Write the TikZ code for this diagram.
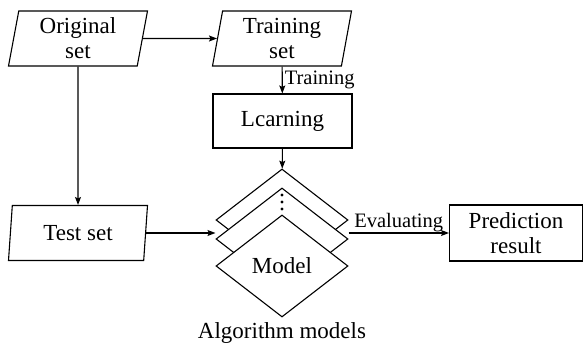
\documentclass[tikz,border=0pt]{standalone}
\usepackage{fontspec}
\setmainfont{Liberation Serif}
\usepackage{tikz}
\usetikzlibrary{shapes.geometric, arrows.meta, positioning}

\begin{document}
\begin{tikzpicture}[x=1pt,y=-1pt,>={Stealth[length=8pt,width=6pt,inset=1.5pt]},line width=1.1pt]
        \useasboundingbox (0,0) rectangle (584,347);
        \begin{scope}[every node/.style={draw,font=\fontsize{23}{25}\selectfont,align=center,inner sep=0pt}]
          \begin{scope}[every node/.append style={trapezium,trapezium left angle=76,trapezium right angle=104,trapezium stretches body,minimum width=139pt,minimum height=55pt}]
            \node (orig) at (78,38.5) {Original\\set};
            \node (train) at (282,38.5) {Training\\set};
            \node (tests) at (78,233) {Test set};
          \end{scope}
          \node[minimum width=139pt,minimum height=54pt] (learn) at (282.5,121) {Lcarning};
          \node[minimum width=133pt,minimum height=56pt] (pred) at (516,233) {Prediction\\result};
          \begin{scope}[every node/.append style={diamond,fill=white,minimum width=132pt,minimum height=102pt}]
            \node (m1) at (282,220) {};
            \node (m2) at (282,239) {};
            \node (m3) at (282,266) {Model};
          \end{scope}
        \end{scope}
        % dots between the stacked models
        \foreach \y in {195,202,209}
          \fill (282,\y) circle (1.6pt);
        \node[font=\fontsize{23}{25}\selectfont] (algo) at (282,333) {Algorithm models};
        \begin{scope}[every edge/.style={draw=black,line width=1.1pt,->}]
          \path (orig) edge (train);
          \path (orig) edge (tests);
          \path (train) edge node[right,inner sep=2pt,font=\fontsize{20.5}{22}\selectfont] {Training} (learn);
          \path (learn) edge (m1);
          \path (tests.east) edge (m2.west |- tests.east);
          \path (m2.east |- pred.west) edge node[above,inner sep=1pt,font=\fontsize{20.5}{22}\selectfont] {Evaluating} (pred);
        \end{scope}
      \end{tikzpicture}
\end{document}
